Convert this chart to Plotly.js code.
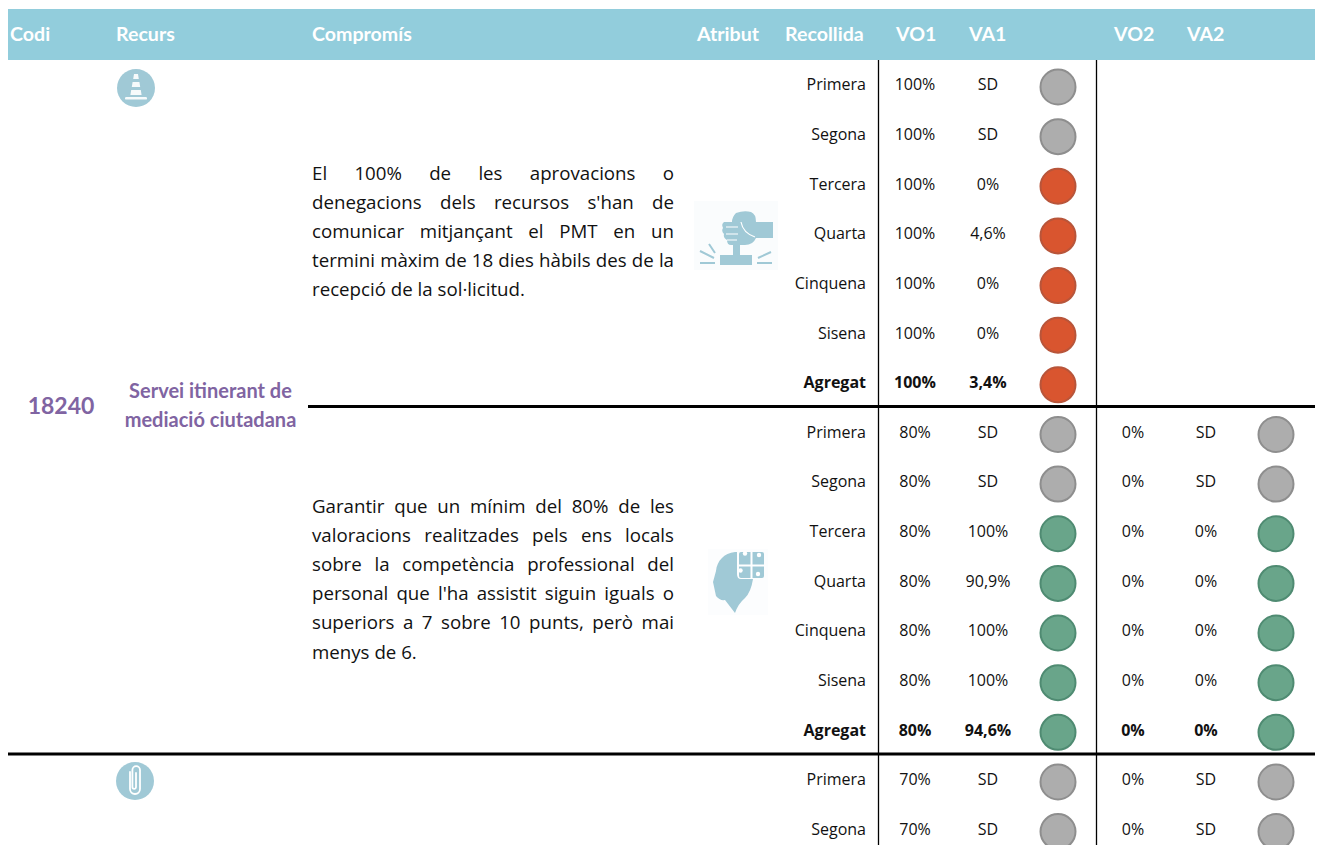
<!DOCTYPE html>
<html lang="ca">
<head>
<meta charset="utf-8">
<script src="https://cdn.plot.ly/plotly-3.0.1.min.js"></script>
<style>html,body{margin:0;padding:0;background:#fff;overflow:hidden}#chart{width:1317px;height:845px}</style>
</head>
<body>
<div id="chart"></div>
<script>
// ---------- data ----------
const headers = ['Codi','Recurs','Compromís','Atribut','Recollida','VO1','VA1','VO2','VA2'];
const code = '18240';
const resourceLines = ['Servei itinerant de','mediació ciutadana'];
const commitment1 = ['El 100% de les aprovacions o','denegacions dels recursos s\'han de','comunicar mitjançant el PMT en un','termini màxim de 18 dies hàbils des de la','recepció de la sol·licitud.'];
const commitment2 = ['Garantir que un mínim del 80% de les','valoracions realitzades pels ens locals','sobre la competència professional del','personal que l\'ha assistit siguin iguals o','superiors a 7 sobre 10 punts, però mai','menys de 6.'];
const rowLabels = ['Primera','Segona','Tercera','Quarta','Cinquena','Sisena','Agregat','Primera','Segona','Tercera','Quarta','Cinquena','Sisena','Agregat','Primera','Segona'];
const vo1 = ['100%','100%','100%','100%','100%','100%','100%','80%','80%','80%','80%','80%','80%','80%','70%','70%'];
const va1 = ['SD','SD','0%','4,6%','0%','0%','3,4%','SD','SD','100%','90,9%','100%','100%','94,6%','SD','SD'];
const status1 = ['n','n','r','r','r','r','r','n','n','g','g','g','g','g','n','n'];
const vo2 = ['','','','','','','','0%','0%','0%','0%','0%','0%','0%','0%','0%'];
const va2 = ['','','','','','','','SD','SD','0%','0%','0%','0%','0%','SD','SD'];
const status2 = ['','','','','','','','n','n','g','g','g','g','g','n','n'];

// ---------- layout helpers ----------
const W = 1317, H = 845;
const rowY = i => 86.3 + 49.64 * i;
const dotY = i => 87 + 49.64 * i;
const fillOf = {n:'#ADADAD', r:'#D9552F', g:'#69A58A'};
const edgeOf = {n:'#8E8E8E', r:'#B8553A', g:'#4F8B72'};
const body = 'Open Sans, sans-serif', head = 'Lato, Carlito, sans-serif';
const bold = i => rowLabels[i] === 'Agregat';
const idx = rowLabels.map((_, i) => i);

function textTrace(x, y, text, pos, size, color, family, weight) {
  return {type:'scatter', mode:'text', x, y, text, textposition:pos,
    textfont:{size, color, family, weight: weight || 400}, hoverinfo:'skip', cliponaxis:false, showlegend:false};
}
function column(xPos, values, pos) {
  const keep = idx.filter(i => values[i] !== '');
  const f = b => keep.filter(i => bold(i) === b);
  return [false, true].map(b => textTrace(f(b).map(() => xPos), f(b).map(rowY), f(b).map(i => values[i]),
    pos, 16, '#111111', body, b ? 700 : 400));
}
function dots(xPos, values) {
  const keep = idx.filter(i => values[i] !== '');
  return {type:'scatter', mode:'markers', x:keep.map(() => xPos), y:keep.map(dotY),
    marker:{size:35, color:keep.map(i => fillOf[values[i]]), line:{width:2, color:keep.map(i => edgeOf[values[i]])}},
    hoverinfo:'skip', cliponaxis:false, showlegend:false};
}
const headerX = [10,116,312,697,785,896,969,1114,1187];
const commitTop1 = 175, commitTop2 = 508, commitStep = 29.2;

const commitTrace = (lines, top) => textTrace(lines.map(() => 312), lines.map((_, i) => top + commitStep * i), lines,
  'middle right', 18.7, '#111111', body);

const traces = [
  textTrace(headerX, headers.map(() => 36.5), headers, 'middle right', 19.6, '#FFFFFF', head, 700),
  textTrace([61], [408.5], [code], 'middle center', 23, '#8064A2', head, 700),
  textTrace(resourceLines.map(() => 210.5), [393, 422], resourceLines, 'middle center', 20, '#8064A2', head, 700),
  commitTrace(commitment1, commitTop1),
  commitTrace(commitment2, commitTop2),
  ...column(866, rowLabels, 'middle left'),
  ...column(915, vo1, 'middle center'),
  ...column(988, va1, 'middle center'),
  ...column(1133, vo2, 'middle center'),
  ...column(1206, va2, 'middle center'),
  dots(1058, status1),
  dots(1276, status2)
];

// ---------- icons ----------
const tint = '#A0C9D6';
const svgUri = s => 'data:image/svg+xml;charset=utf-8,' + encodeURIComponent(s);
const cone = `<svg xmlns="http://www.w3.org/2000/svg" viewBox="0 0 40 40"><circle cx="20" cy="20" r="19" fill="${tint}"/>
<path d="M18 6h4l.8 5h-5.6zM16.6 14h6.8l.8 5h-8.4zM15.2 22h9.6l.8 5H14.4z" fill="#fff" fill-opacity=".9"/><rect x="9" y="29" width="22" height="2.6" rx="1.2" fill="#fff" fill-opacity=".9"/></svg>`;
const clip = `<svg xmlns="http://www.w3.org/2000/svg" viewBox="0 0 40 40"><circle cx="20" cy="20" r="19" fill="${tint}"/>
<path d="M15 11v17a5 5 0 0 0 10 0V9a3.8 3.8 0 0 0-7.6 0v17a1.8 1.8 0 0 0 3.6 0V12" fill="none" stroke="#fff" stroke-width="1.8" stroke-linecap="round"/></svg>`;
const fist = `<svg xmlns="http://www.w3.org/2000/svg" viewBox="694 201 84 69"><rect x="694" y="201" width="84" height="69" fill="#FAFCFD"/>
<g fill="${tint}"><path d="M736 213q8-3 15-1q5 2 5 10h17v16h-17q-3 7-11 7h-14q-4 0-4-5q-4-2-3-6q-3-3-1-6q-2-4 1-6h8q0-5 4-9z"/>
<rect x="733" y="245" width="7" height="11"/><rect x="720" y="255" width="32" height="10"/></g>
<g stroke="#fff" stroke-width="1.2" fill="none"><path d="M726 227h12M726 234h12M727 240h10M741 222q2 11 14 15"/></g>
<g stroke="${tint}" stroke-width="2" fill="none"><path d="M700 263h15M700 251l14 7M709 244l6 9M757 263h15M758 258l13-6"/></g></svg>`;
const headIcon = `<svg xmlns="http://www.w3.org/2000/svg" viewBox="708 549 60 66"><rect x="708" y="549" width="60" height="66" fill="#FCFDFE"/>
<path d="M735 552C724 553 717 561 716 571L713 582L716 596Q720 601 725 600L735 613Q738 604 745 598Q751 592 753 579H741Q737 579 737 574V552z" fill="${tint}"/>
<rect x="739" y="552" width="25" height="26" rx="2" fill="${tint}"/>
<g fill="#fff"><rect x="750.5" y="552" width="2" height="26"/><rect x="739" y="564.5" width="25" height="2"/>
<circle cx="745" cy="553.5" r="2.2"/><circle cx="759" cy="555" r="2.2"/><circle cx="740.5" cy="570.5" r="2.2"/><circle cx="758" cy="574" r="2.2"/></g></svg>`;
const iconBoxes = [
  [cone, 116, 68, 40, 40], [fist, 694, 201, 84, 69], [headIcon, 708, 549, 60, 66], [clip, 115, 761, 40, 40]
];

const black = '#000000';
const pxLine = (x0, y0, x1, y1, width) => ({type:'line', xref:'x', yref:'y', x0, y0, x1, y1, line:{color:black, width}});
const layout = {
  width:W, height:H, margin:{l:0,r:0,t:0,b:0,pad:0}, paper_bgcolor:'#fff', plot_bgcolor:'#fff', showlegend:false,
  xaxis:{range:[0,W], visible:false, fixedrange:true},
  yaxis:{range:[H,0], visible:false, fixedrange:true},
  shapes:[
    {type:'rect', xref:'x', yref:'y', x0:8, x1:1315, y0:9, y1:60, fillcolor:'#92CDDC', line:{width:0}, layer:'below'},
    pxLine(878.5,60,878.5,845,1.3), pxLine(1096.5,60,1096.5,845,1.3),
    pxLine(308,406.5,1315,406.5,3), pxLine(8,754,1315,754,3)
  ],
  images: iconBoxes.map(([s,x,y,w,h]) => ({source:svgUri(s), xref:'x', yref:'y', x, y, sizex:w, sizey:h,
    xanchor:'left', yanchor:'top', sizing:'stretch', layer:'below'}))
};

Plotly.newPlot('chart', traces, layout, {displayModeBar:false, staticPlot:true}).then(() => {
  // justify the commitment paragraphs (last line of each stays left-aligned)
  const justified = [...commitment1.slice(0,-1), ...commitment2.slice(0,-1)];
  const paragraphs = [...commitment1, ...commitment2];
  document.querySelectorAll('.textpoint text').forEach(t => {
    const s = t.textContent;
    if (!paragraphs.includes(s)) return;
    t.style.fontVariantLigatures = 'none';
    t.style.fontKerning = 'none';
    t.style.fontFeatureSettings = '"liga" 0, "ccmp" 0, "locl" 0';
    if (!justified.includes(s)) return;
    const gaps = s.split(' ').length - 1;
    t.style.whiteSpace = 'pre';
    t.style.wordSpacing = ((362 - t.getComputedTextLength()) / gaps) + 'px';
  });
});
</script>
</body>
</html>
